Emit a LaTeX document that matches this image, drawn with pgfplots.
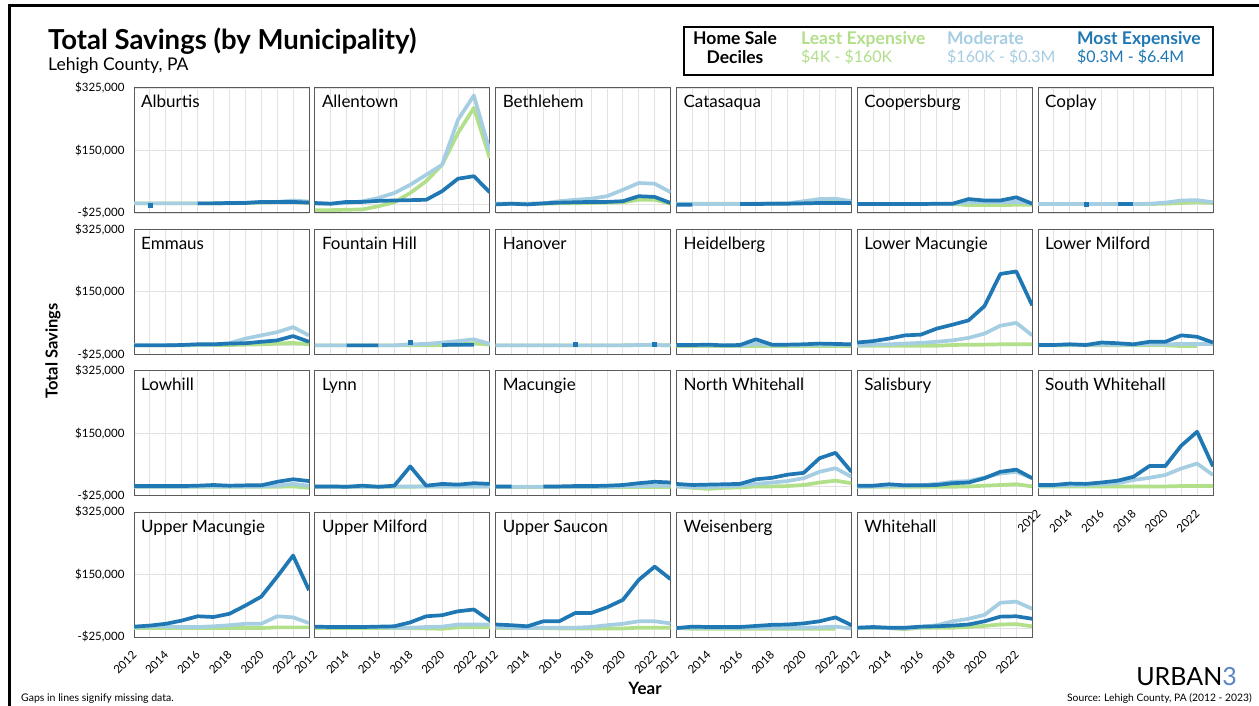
\documentclass[border=0pt]{standalone}
\usepackage{pgfplots}
\pgfplotsset{compat=1.18}
\usepackage{pgfplotstable}
\usepackage{fontspec}
\setmainfont{Lato}

\definecolor{cg}{HTML}{B2DF8A}
\definecolor{clb}{HTML}{A6CEE3}
\definecolor{cdb}{HTML}{1F78B4}
\definecolor{gridc}{HTML}{E2E2E2}
\definecolor{axc}{HTML}{5A5A5A}
\definecolor{logo}{HTML}{5B84C4}
\newcommand{\tl}[1]{\hbox{\fontsize{11.5}{13}\selectfont #1}}

% values in dollars: g = least expensive, lb = moderate, db = most expensive
\pgfplotstableread{
x g lb db
2012 2000 2000 nan
2013 2000 2000 -4000
2014 2000 2000 nan
2015 2000 2000 nan
2016 2000 2000 2000
2017 2000 2000 2000
2018 2000 3000 3000
2019 3000 4000 3000
2020 4000 5000 6000
2021 5000 6000 6000
2022 5000 10000 6000
2023 3000 7000 4000
}\tAlburtis
\pgfplotstableread{
x g lb db
2012 -17000 1000 3000
2013 -17000 1000 1000
2014 -16000 3000 6000
2015 -15000 8000 6000
2016 -6000 17000 9000
2017 5000 31000 10000
2018 31000 54000 11000
2019 64000 82000 12000
2020 110000 110000 36000
2021 199000 236000 71000
2022 269000 304000 78000
2023 129000 148000 33000
}\tAllentown
\pgfplotstableread{
x g lb db
2012 1000 1000 -1000
2013 1000 1000 1000
2014 1000 1000 -1000
2015 1000 2000 2000
2016 2000 8000 4000
2017 2000 12000 5000
2018 3000 15000 6000
2019 4000 22000 6000
2020 5000 40000 8000
2021 12000 59000 22000
2022 12000 57000 20000
2023 1000 33000 3000
}\tBethlehem
\pgfplotstableread{
x g lb db
2012 1000 0 -2000
2013 1000 0 -2000
2014 1000 0 nan
2015 1000 0 nan
2016 1000 0 0
2017 1000 1000 0
2018 1000 2000 1000
2019 2000 2000 1000
2020 3000 8000 2000
2021 5000 14000 3000
2022 8000 15000 3000
2023 4000 8000 3000
}\tCatasaqua
\pgfplotstableread{
x g lb db
2012 0 0 0
2013 0 0 0
2014 0 0 0
2015 0 0 0
2016 0 0 0
2017 0 0 1000
2018 0 1000 1000
2019 -3000 5000 14000
2020 -3000 5000 10000
2021 -3000 5000 10000
2022 -2000 6000 19000
2023 -2000 2000 1000
}\tCoopersburg
\pgfplotstableread{
x g lb db
2012 0 0 nan
2013 0 0 nan
2014 0 0 nan
2015 0 0 0
2016 0 0 nan
2017 0 0 0
2018 0 0 0
2019 0 1000 nan
2020 1000 4000 nan
2021 3000 10000 nan
2022 5000 11000 nan
2023 3000 5000 nan
}\tCoplay
\pgfplotstableread{
x g lb db
2012 0 1000 0
2013 0 1000 0
2014 0 1000 0
2015 0 1000 1000
2016 1000 2000 3000
2017 1000 2000 3000
2018 1000 6000 5000
2019 2000 19000 6000
2020 3000 28000 10000
2021 5000 37000 14000
2022 7000 51000 26000
2023 3000 28000 10000
}\tEmmaus
\pgfplotstableread{
x g lb db
2012 0 0 nan
2013 0 0 nan
2014 0 0 0
2015 0 0 0
2016 0 0 0
2017 0 0 nan
2018 0 3000 9000
2019 0 4000 nan
2020 1000 8000 1000
2021 2000 12000 2000
2022 6000 17000 2000
2023 2000 4000 nan
}\tFountainHill
\pgfplotstableread{
x g lb db
2012 0 0 nan
2013 0 0 nan
2014 0 0 nan
2015 0 0 nan
2016 0 0 nan
2017 0 0 2000
2018 0 0 nan
2019 0 0 nan
2020 0 0 nan
2021 1000 1000 nan
2022 1000 1000 2000
2023 0 0 nan
}\tHanover
\pgfplotstableread{
x g lb db
2012 -1000 0 1000
2013 -1000 0 1000
2014 -1000 0 2000
2015 -1000 0 0
2016 -1000 -1000 1000
2017 -1000 4000 17000
2018 -1000 1000 2000
2019 -1000 1000 2000
2020 -1000 1000 3000
2021 -1000 2000 5000
2022 -1000 2000 4000
2023 -1000 2000 3000
}\tHeidelberg
\pgfplotstableread{
x g lb db
2012 -1000 0 8000
2013 -1000 2000 12000
2014 -1000 3000 19000
2015 -1000 5000 28000
2016 -1000 7000 30000
2017 -1000 10000 47000
2018 1000 14000 58000
2019 2000 21000 70000
2020 2000 33000 110000
2021 3000 55000 200000
2022 3000 63000 207000
2023 3000 28000 112000
}\tLowerMacungie
\pgfplotstableread{
x g lb db
2012 0 1000 1000
2013 0 1000 1000
2014 0 2000 3000
2015 0 2000 1000
2016 0 2000 8000
2017 0 2000 6000
2018 0 2000 3000
2019 0 3000 10000
2020 0 3000 10000
2021 -2000 4000 28000
2022 -2000 4000 24000
2023 nan 4000 8000
}\tLowerMilford
\pgfplotstableread{
x g lb db
2012 0 0 2000
2013 0 0 2000
2014 0 0 2000
2015 0 0 2000
2016 0 1000 3000
2017 0 1000 5000
2018 0 1000 3000
2019 0 1000 4000
2020 0 1000 4000
2021 0 3000 14000
2022 1000 8000 21000
2023 -3000 3000 16000
}\tLowhill
\pgfplotstableread{
x g lb db
2012 0 0 1000
2013 0 0 1000
2014 0 0 0
2015 0 0 3000
2016 0 0 0
2017 0 1000 3000
2018 0 1000 57000
2019 1000 1000 3000
2020 1000 1000 8000
2021 1000 1000 6000
2022 1000 1000 10000
2023 1000 1000 8000
}\tLynn
\pgfplotstableread{
x g lb db
2012 0 0 1000
2013 0 0 1000
2014 0 0 nan
2015 0 0 1000
2016 0 0 1000
2017 0 0 2000
2018 0 0 2000
2019 0 0 3000
2020 0 1000 5000
2021 0 2000 10000
2022 0 3000 14000
2023 0 3000 12000
}\tMacungie
\pgfplotstableread{
x g lb db
2012 1000 1000 8000
2013 -3000 -1000 5000
2014 -6000 -1000 6000
2015 -3000 1000 7000
2016 -2000 3000 8000
2017 1000 8000 21000
2018 1000 12000 25000
2019 2000 16000 34000
2020 5000 24000 39000
2021 12000 42000 80000
2022 17000 52000 95000
2023 10000 28000 42000
}\tNorthWhitehall
\pgfplotstableread{
x g lb db
2012 0 1000 3000
2013 0 1000 3000
2014 0 3000 7000
2015 0 3000 4000
2016 0 4000 4000
2017 0 8000 5000
2018 0 14000 10000
2019 1000 16000 12000
2020 3000 26000 24000
2021 5000 37000 42000
2022 7000 42000 48000
2023 1000 24000 24000
}\tSalisbury
\pgfplotstableread{
x g lb db
2012 1000 3000 5000
2013 1000 3000 5000
2014 1000 4000 9000
2015 1000 5000 8000
2016 1000 7000 12000
2017 1000 10000 17000
2018 1000 19000 28000
2019 1000 25000 58000
2020 1000 33000 58000
2021 2000 51000 115000
2022 2000 65000 154000
2023 2000 33000 57000
}\tSouthWhitehall
\pgfplotstableread{
x g lb db
2012 0 3000 4000
2013 0 4000 7000
2014 0 4000 12000
2015 0 3000 21000
2016 0 3000 33000
2017 0 5000 31000
2018 0 8000 40000
2019 0 12000 63000
2020 0 12000 88000
2021 2000 33000 144000
2022 2000 30000 203000
2023 2000 14000 106000
}\tUpperMacungie
\pgfplotstableread{
x g lb db
2012 0 3000 4000
2013 0 3000 3000
2014 0 3000 3000
2015 0 3000 3000
2016 0 3000 4000
2017 0 1000 5000
2018 0 1000 16000
2019 -1000 3000 33000
2020 -2000 4000 36000
2021 2000 10000 47000
2022 2000 10000 52000
2023 2000 10000 21000
}\tUpperMilford
\pgfplotstableread{
x g lb db
2012 0 3000 10000
2013 0 1000 8000
2014 0 0 5000
2015 0 1000 19000
2016 -1000 1000 19000
2017 -1000 1000 42000
2018 -1000 3000 42000
2019 -1000 8000 58000
2020 -1000 12000 79000
2021 1000 19000 135000
2022 1000 19000 172000
2023 1000 13000 137000
}\tUpperSaucon
\pgfplotstableread{
x g lb db
2012 0 0 0
2013 -2000 1000 4000
2014 -2000 1000 3000
2015 -2000 1000 3000
2016 -2000 1000 3000
2017 -2000 1000 6000
2018 -2000 1000 9000
2019 -2000 1000 10000
2020 -2000 1000 13000
2021 -2000 2000 19000
2022 -2000 4000 30000
2023 nan -1000 8000
}\tWeisenberg
\pgfplotstableread{
x g lb db
2012 0 1000 1000
2013 0 1000 3000
2014 0 0 1000
2015 -3000 -1000 1000
2016 1000 3000 4000
2017 1000 8000 5000
2018 1000 19000 7000
2019 3000 26000 10000
2020 6000 37000 19000
2021 10000 71000 32000
2022 11000 74000 33000
2023 5000 54000 26000
}\tWhitehall

\tikzset{
  ptitle/.style={anchor=base west, font=\fontsize{17}{20}\selectfont, xshift=7pt, yshift=-20pt, inner sep=0pt},
}
\pgfplotsset{
  panel/.style={
    scale only axis, width=175pt, height=125pt, anchor=north west,
    xmin=2012, xmax=2023, ymin=-25000, ymax=325000,
    xtick={2012,...,2023}, xticklabels={},
    ytick={-25000,0,150000,325000}, yticklabels={},
    grid=major, major grid style={draw=gridc, line width=0.9pt},
    major tick length=0pt,
    axis line style={draw=axc, line width=1pt},
    unbounded coords=jump,
    scaled y ticks=false,
    /pgf/number format/assume math mode=true,
    tick label style={font=\fontsize{11.5}{13}\selectfont},
    yticklabel style={text=black, anchor=east, xshift=-6pt},
    xticklabel style={text=black, yshift=-16pt, xshift=0.5pt, rotate=45, anchor=east, inner sep=0pt},
  },
  xlab/.style={xticklabels={{\tl{2012}},{},{\tl{2014}},{},{\tl{2016}},{},{\tl{2018}},{},{\tl{2020}},{},{\tl{2022}},{}}},
  ylab/.style={yticklabels={{\tl{-\$25,000}},{},{\tl{\$150,000}},{\tl{\$325,000}}}},
  lg/.style={draw=cg, line width=3.7pt, line join=round, line cap=butt},
  llb/.style={draw=clb, line width=3.7pt, line join=round, line cap=butt},
  ldb/.style={draw=cdb, line width=3.7pt, line join=round, line cap=butt},
  isod/.style={only marks, mark=square*, mark size=2pt, color=cdb},
}

\newcommand{\panel}[6]{%
\begin{axis}[panel, at={(#1pt,-#2pt)}, #5]
\addplot[lg] table[x=x,y=g]{#4};
\addplot[llb] table[x=x,y=lb]{#4};
\addplot[ldb] table[x=x,y=db]{#4};
#6
\node[ptitle] at (rel axis cs:0,1) {#3};
\end{axis}}

\begin{document}
\begin{tikzpicture}
\path[use as bounding box] (0,0) rectangle (1259pt,-706pt);
\fill[white] (0,0) rectangle (1259pt,-706pt);
\draw[line width=3pt, black] (9pt,-706pt) -- (9pt,-5.5pt) -- (1259pt,-5.5pt);

% titles
\node[anchor=base west, font=\fontsize{27.5}{31}\selectfont\bfseries, inner sep=0pt] at (48pt,-50pt) {Total Savings (by Municipality)};
\node[anchor=base west, font=\fontsize{17.5}{20}\selectfont, inner sep=0pt] at (48pt,-71pt) {Lehigh County, PA};

% legend
\draw[line width=1.5pt, black] (684pt,-27pt) rectangle (1213pt,-75pt);
\node[anchor=base, font=\fontsize{17.5}{20}\selectfont\bfseries, inner sep=0pt] at (735pt,-45pt) {Home Sale};
\node[anchor=base, font=\fontsize{17.5}{20}\selectfont\bfseries, inner sep=0pt] at (735pt,-64pt) {Deciles};
\node[anchor=base west, font=\fontsize{17.5}{20}\selectfont\bfseries, text=cg, inner sep=0pt] at (801pt,-45pt) {Least Expensive};
\node[anchor=base west, font=\fontsize{16}{19}\selectfont, text=cg, inner sep=0pt] at (801pt,-63pt) {\$4K - \$160K};
\node[anchor=base west, font=\fontsize{17.5}{20}\selectfont\bfseries, text=clb, inner sep=0pt] at (947pt,-45pt) {Moderate};
\node[anchor=base west, font=\fontsize{16}{19}\selectfont, text=clb, inner sep=0pt] at (947pt,-63pt) {\$160K - \$0.3M};
\node[anchor=base west, font=\fontsize{17.5}{20}\selectfont\bfseries, text=cdb, inner sep=0pt] at (1077pt,-45pt) {Most Expensive};
\node[anchor=base west, font=\fontsize{16}{19}\selectfont, text=cdb, inner sep=0pt] at (1077pt,-63pt) {\$0.3M - \$6.4M};

% row 1
\panel{134}{88}{Alburtis}{\tAlburtis}{ylab}{\addplot[isod] coordinates {(2013,-4000)};}
\panel{314.8}{88}{Allentown}{\tAllentown}{}{}
\panel{495.6}{88}{Bethlehem}{\tBethlehem}{}{}
\panel{676.4}{88}{Catasaqua}{\tCatasaqua}{}{}
\panel{857.2}{88}{Coopersburg}{\tCoopersburg}{}{}
\panel{1038}{88}{Coplay}{\tCoplay}{}{\addplot[isod] coordinates {(2015,0)};}
% row 2
\panel{134}{229.3}{Emmaus}{\tEmmaus}{ylab}{}
\panel{314.8}{229.3}{Fountain Hill}{\tFountainHill}{}{\addplot[isod] coordinates {(2018,9000)};}
\panel{495.6}{229.3}{Hanover}{\tHanover}{}{\addplot[isod] coordinates {(2017,2000) (2022,2000)};}
\panel{676.4}{229.3}{Heidelberg}{\tHeidelberg}{}{}
\panel{857.2}{229.3}{Lower Macungie}{\tLowerMacungie}{}{}
\panel{1038}{229.3}{Lower Milford}{\tLowerMilford}{}{}
% row 3
\panel{134}{370.7}{Lowhill}{\tLowhill}{ylab}{}
\panel{314.8}{370.7}{Lynn}{\tLynn}{}{}
\panel{495.6}{370.7}{Macungie}{\tMacungie}{}{}
\panel{676.4}{370.7}{North Whitehall}{\tNorthWhitehall}{}{}
\panel{857.2}{370.7}{Salisbury}{\tSalisbury}{}{}
\panel{1038}{370.7}{South Whitehall}{\tSouthWhitehall}{xlab}{}
% row 4
\panel{134}{512}{Upper Macungie}{\tUpperMacungie}{ylab,xlab}{}
\panel{314.8}{512}{Upper Milford}{\tUpperMilford}{xlab}{}
\panel{495.6}{512}{Upper Saucon}{\tUpperSaucon}{xlab}{}
\panel{676.4}{512}{Weisenberg}{\tWeisenberg}{xlab}{}
\panel{857.2}{512}{Whitehall}{\tWhitehall}{xlab}{}

% axis titles
\node[rotate=90, font=\fontsize{16.5}{19}\selectfont\bfseries] at (53pt,-351pt) {Total Savings};
\node[font=\fontsize{17}{20}\selectfont\bfseries] at (645pt,-688pt) {Year};

% footer
\node[anchor=base west, font=\fontsize{10.5}{12}\selectfont, inner sep=0pt] at (21pt,-701pt) {Gaps in lines signify missing data.};
\node[anchor=base east, font=\fontsize{10.3}{12}\selectfont, inner sep=0pt] at (1252pt,-701pt) {Source: Lehigh County, PA (2012 - 2023)};
\node[anchor=base east, font=\fontsize{25}{28}\selectfont, inner sep=0pt] at (1237pt,-685pt) {URBAN\textcolor{logo}{3}};
\end{tikzpicture}
\end{document}
